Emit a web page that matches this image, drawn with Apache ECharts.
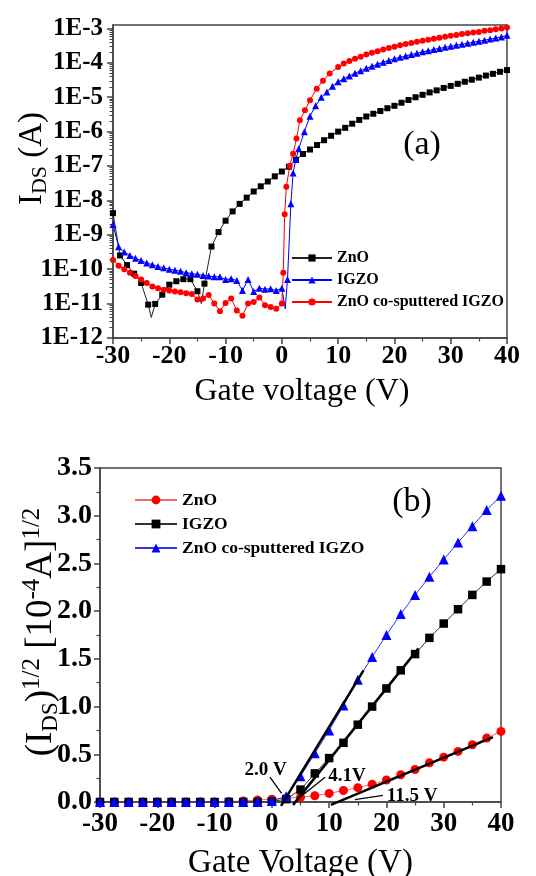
<!DOCTYPE html>
<html><head><meta charset="utf-8">
<script src="https://cdn.jsdelivr.net/npm/echarts@6/dist/echarts.min.js"></script>
<style>html,body{margin:0;padding:0;background:#fff}#c{width:536px;height:876px}</style>
</head><body><div id="c"></div>
<script>
// ---------- tick labels ----------
const xTickValues = [-30, -20, -10, 0, 10, 20, 30, 40];
const decadeTicks = [1e-12, 1e-11, 1e-10, 1e-9, 1e-8, 1e-7, 1e-6, 1e-5, 1e-4, 1e-3];
const sqrtTicks = [0, 0.5, 1.0, 1.5, 2.0, 2.5, 3.0, 3.5];

// ---------- panel (a): log10(I_DS) values ----------
const aZnO_V = [-30,-28.75,-27.5,-26.25,-25,-23.75,-22.5,-21.25,-20,-18.75,-17.5,-16.25,-15,-13.75,-12.5,-11.25,-10,-8.75,-7.5,-6.25,-5,-3.75,-2.5,-1.25,0,1.25,2.5,3.75,5,6.25,7.5,8.75,10,11.25,12.5,13.75,15,16.25,17.5,18.75,20,21.25,22.5,23.75,25,26.25,27.5,28.75,30,31.25,32.5,33.75,35,36.25,37.5,38.75,40];
const aZnO_logI = [-8.37,-9.6,-9.88,-10.13,-10.4,-11.03,-11.01,-10.74,-10.45,-10.35,-10.29,-10.29,-10.64,-10.42,-9.34,-8.92,-8.59,-8.32,-8.1,-7.92,-7.74,-7.59,-7.45,-7.3,-7.16,-7.02,-6.82,-6.65,-6.52,-6.39,-6.25,-6.12,-6.0,-5.89,-5.77,-5.66,-5.56,-5.48,-5.4,-5.32,-5.25,-5.16,-5.08,-5.0,-4.93,-4.86,-4.8,-4.73,-4.67,-4.61,-4.55,-4.49,-4.43,-4.37,-4.32,-4.26,-4.21];
const aZnO_lineOnlyV = [-23.2, -14.3];
const aZnO_lineOnlyLogI = [-11.4, -11.0];

const aIGZO_V = [-30,-29,-28,-27,-26,-25,-24,-23,-22,-21,-20,-19,-18,-17,-16,-15,-14,-13,-12,-11,-10,-9,-8,-7,-6,-5,-4,-3,-2,-1,0,
  1,1.6,2,2.5,3,4,5,6,7,8,9,
  10,11,12,13,14,15,16,17,18,19,20,21,22,23,24,25,26,27,28,29,30,31,32,33,34,35,36,37,38,39,40];
const aIGZO_logI = [-8.7,-9.35,-9.5,-9.6,-9.68,-9.75,-9.82,-9.87,-9.92,-9.96,-10.0,-10.03,-10.06,-10.1,-10.13,-10.15,-10.18,-10.2,-10.22,-10.22,-10.3,-10.28,-10.33,-10.62,-10.3,-10.65,-10.55,-10.58,-10.57,-10.62,-10.55,
  -10.3,-8.1,-7.2,-6.8,-6.5,-6.0,-5.55,-5.25,-5.0,-4.85,-4.68,
  -4.55,-4.46,-4.38,-4.3,-4.23,-4.16,-4.1,-4.04,-3.98,-3.93,-3.88,-3.84,-3.8,-3.76,-3.72,-3.68,-3.65,-3.61,-3.58,-3.55,-3.52,-3.49,-3.46,-3.43,-3.4,-3.37,-3.34,-3.31,-3.28,-3.25,-3.2];
const aIGZO_lineOnlyV = [0.6];
const aIGZO_lineOnlyLogI = [-11.15];

const aCo_V = [-30,-29,-28,-27,-26,-25,-24,-23,-22,-21,-20,-19,-18,-17,-16,-15,-14,-13,-12,-11,-10,-9,-8,-7,-6,-5,-4,-3,-2,-1,0,
  0.25,0.5,0.8,1.4,2,2.6,3.2,4.1,5,6.2,7.3,8.5,
  10,11,12,13,14,15,16,17,18,19,20,21,22,23,24,25,26,27,28,29,30,31,32,33,34,35,36,37,38,39,40];
const aCo_logI = [-9.73,-9.9,-10.0,-10.1,-10.2,-10.3,-10.4,-10.5,-10.55,-10.6,-10.62,-10.65,-10.67,-10.7,-10.72,-10.88,-10.85,-10.75,-11.0,-11.22,-10.98,-10.85,-11.2,-11.35,-11.0,-10.95,-10.82,-11.05,-11.1,-11.15,-11.0,
  -10.1,-8.4,-7.6,-7.0,-6.64,-6.2,-5.67,-5.38,-5.09,-4.75,-4.52,-4.31,
  -4.12,-4.02,-3.95,-3.88,-3.82,-3.76,-3.71,-3.66,-3.61,-3.57,-3.53,-3.49,-3.45,-3.42,-3.39,-3.36,-3.33,-3.3,-3.27,-3.24,-3.21,-3.19,-3.16,-3.14,-3.12,-3.1,-3.07,-3.05,-3.02,-3.0,-2.97];

// ---------- panel (b): sqrt(I_DS) [1e-4 A]^1/2 ----------
const bV = [-30,-27.5,-25,-22.5,-20,-17.5,-15,-12.5,-10,-7.5,-5,-2.5,0,2.5,5,7.5,10,12.5,15,17.5,20,22.5,25,27.5,30,32.5,35,37.5,40];
const bZnO = [0,0,0,0,0,0,0,0,0,0.005,0.01,0.02,0.03,0.04,0.05,0.065,0.09,0.12,0.15,0.185,0.23,0.285,0.34,0.41,0.47,0.53,0.6,0.67,0.74];
const bIGZO = [0,0,0,0,0,0,0,0,0,0,0,0,0.005,0.03,0.13,0.3,0.46,0.62,0.81,1.0,1.19,1.38,1.55,1.72,1.87,2.02,2.17,2.31,2.44];
const bCo = [0,0,0,0,0,0,0,0,0,0,0,0,0.01,0.06,0.27,0.51,0.75,1.01,1.28,1.52,1.75,1.97,2.17,2.36,2.54,2.72,2.89,3.06,3.21];
// linear-fit lines (end points)
const fitCo_V = [1.6, 16], fitCo_Y = [-0.04, 1.38];
const fitIGZO_V = [3.7, 25.6], fitIGZO_Y = [-0.03, 1.61];
const fitZnO_V = [10.3, 38.6], fitZnO_Y = [-0.03, 0.68];
// threshold annotations
const annText = ['2.0 V', '4.1V', '11.5 V'];
const annTextV = [-1.1, 13.1, 24.5], annTextY = [0.33, 0.27, 0.065];
const arrowFromV = [-0.33, 9.3, 19.4], arrowFromY = [0.26, 0.26, 0.07];
const arrowToV = [1.7, 4.9, 14.5], arrowToY = [0.09, 0.05, 0.025];

// ---------- build ----------
const FONT = "'Liberation Serif','Times New Roman',serif";
const AX = '#444';
function logPts(vs, es, lv, le) {
  const pts = vs.map((v, i) => ({ value: [v, Math.pow(10, es[i])] }));
  lv.forEach((v, i) => pts.push({ value: [v, Math.pow(10, le[i])], symbol: 'none' }));
  pts.sort((p, q) => p.value[0] - q.value[0]);
  return pts;
}
const minorLog = [];
for (let e = -12; e <= -4; e++) for (let k = 2; k <= 9; k++) minorLog.push(k * Math.pow(10, e));

function xAxisCfg(grid, fs, margin, name, nameGap, nameFs, namePad) {
  return {
    type: 'value', gridIndex: grid, min: -30, max: 40, interval: 10,
    axisLine: { show: true, onZero: false, lineStyle: { color: AX, width: 1.5 } },
    axisTick: { show: true, length: 6, lineStyle: { color: AX, width: 1.5 } },
    minorTick: { show: true, splitNumber: 2, length: 3.5, lineStyle: { color: AX, width: 1.2 } },
    splitLine: { show: false }, minorSplitLine: { show: false },
    axisLabel: { color: '#000', fontFamily: FONT, fontWeight: 'bold', fontSize: fs, margin: margin, showMinLabel: true, showMaxLabel: true,
      customValues: xTickValues },
    name: name, nameLocation: 'middle', nameGap: nameGap, nameMoveOverlap: false,
    nameTextStyle: { color: '#000', fontFamily: FONT, fontSize: nameFs, padding: namePad }
  };
}

const option = {
  animation: false,
  backgroundColor: '#fff',
  grid: [
    { left: 113, top: 25, width: 394, height: 313, containLabel: false, outerBoundsMode: 'none',
      show: true, borderColor: AX, borderWidth: 1.5, backgroundColor: 'transparent' },
    { left: 100, top: 468, width: 401, height: 334, containLabel: false, outerBoundsMode: 'none',
      show: true, borderColor: AX, borderWidth: 1.5, backgroundColor: 'transparent' }
  ],
  xAxis: [
    xAxisCfg(0, 26, 5, 'Gate voltage (V)', 38, 32, [0, 16, 0, 0]),
    xAxisCfg(1, 27, 9, 'Gate Voltage (V)', 45, 33, [0, 0, 0, 0])
  ],
  yAxis: [
    {
      type: 'log', logBase: 10, gridIndex: 0, min: 1e-12, max: Math.pow(10, -2.9), position: 'left',
      axisLine: { show: true, onZero: false, lineStyle: { color: AX, width: 1.5 } },
      axisTick: { show: true, length: 6, customValues: decadeTicks, lineStyle: { color: AX, width: 1.5 } },
      axisLabel: { customValues: decadeTicks, color: '#000', fontFamily: FONT, fontWeight: 'bold', fontSize: 25, margin: 10,
        formatter: v => '1E' + Math.round(Math.log10(v)) },
      splitLine: { show: false },
      name: '{i|I}{s|DS}{i| (A)}', nameLocation: 'middle', nameRotate: 90, nameGap: 62, nameMoveOverlap: false,
      nameTextStyle: { padding: [0, 0, 0, 46], rich: {
        i: { fontFamily: FONT, fontSize: 33, lineHeight: 38, color: '#000' },
        s: { fontFamily: FONT, fontSize: 22, lineHeight: 22, verticalAlign: 'bottom', color: '#000' } } }
    },
    {
      type: 'log', logBase: 10, gridIndex: 0, min: 1e-12, max: Math.pow(10, -2.9), position: 'left',
      axisLine: { show: false, onZero: false },
      axisTick: { show: true, length: 3.5, customValues: minorLog, lineStyle: { color: AX, width: 1 } },
      axisLabel: { show: false }, splitLine: { show: false }
    },
    {
      type: 'value', gridIndex: 1, min: 0, max: 3.5, interval: 0.5,
      axisLine: { show: true, onZero: false, lineStyle: { color: AX, width: 1.5 } },
      axisTick: { show: true, length: 6, lineStyle: { color: AX, width: 1.5 } },
      minorTick: { show: true, splitNumber: 2, length: 3.5, lineStyle: { color: AX, width: 1.2 } },
      splitLine: { show: false },
      axisLabel: { color: '#000', fontFamily: FONT, fontWeight: 'bold', fontSize: 28, margin: 8,
        customValues: sqrtTicks, formatter: v => v.toFixed(1) },
      name: '{i|(I}{s|DS}{i|)}{p|1/2}{i| [10}{p|-4}{i|A]}{p|1/2}', nameLocation: 'middle', nameRotate: 90, nameGap: 38, nameMoveOverlap: false,
      nameTextStyle: { padding: [0, 0, 0, 6], rich: {
        i: { fontFamily: FONT, fontSize: 37, lineHeight: 42, color: '#000' },
        s: { fontFamily: FONT, fontSize: 23, lineHeight: 23, verticalAlign: 'bottom', color: '#000' },
        p: { fontFamily: FONT, fontSize: 25, lineHeight: 25, verticalAlign: 'top', color: '#000' } } }
    }
  ],
  legend: [
    { orient: 'vertical', left: 286, top: 245, itemWidth: 40, itemHeight: 9, itemGap: 6,
      data: ['ZnO', 'IGZO', 'ZnO co-sputtered IGZO'],
      textStyle: { fontFamily: FONT, fontWeight: 'bold', fontSize: 16, lineHeight: 16, color: '#000' } },
    { orient: 'vertical', left: 129, top: 486, itemWidth: 42, itemHeight: 11, itemGap: 6,
      data: ['ZnO ', 'IGZO ', 'ZnO co-sputtered IGZO '],
      textStyle: { fontFamily: FONT, fontWeight: 'bold', fontSize: 17.5, lineHeight: 18, color: '#000' } }
  ],
  graphic: [
    { type: 'text', x: 422, y: 145, style: { text: '(a)', font: "34px 'Liberation Serif'", fill: '#000', align: 'center', verticalAlign: 'middle' } },
    { type: 'text', x: 412, y: 502, style: { text: '(b)', font: "34px 'Liberation Serif'", fill: '#000', align: 'center', verticalAlign: 'middle' } }
  ],
  series: [
    { type: 'line', name: 'ZnO', xAxisIndex: 0, yAxisIndex: 0, data: logPts(aZnO_V, aZnO_logI, aZnO_lineOnlyV, aZnO_lineOnlyLogI),
      symbol: 'rect', symbolSize: 6, lineStyle: { color: '#222', width: 1 }, itemStyle: { color: '#000' } },
    { type: 'line', name: 'IGZO', xAxisIndex: 0, yAxisIndex: 0, data: logPts(aIGZO_V, aIGZO_logI, aIGZO_lineOnlyV, aIGZO_lineOnlyLogI),
      symbol: 'triangle', symbolSize: 7, lineStyle: { color: '#0000ff', width: 1 }, itemStyle: { color: '#0000ff' } },
    { type: 'line', name: 'ZnO co-sputtered IGZO', xAxisIndex: 0, yAxisIndex: 0, data: logPts(aCo_V, aCo_logI, [], []),
      symbol: 'circle', symbolSize: 6, lineStyle: { color: '#ff0000', width: 1 }, itemStyle: { color: '#ff0000' } },

    { type: 'line', name: 'ZnO ', xAxisIndex: 1, yAxisIndex: 2, data: bV.map((v, i) => [v, bZnO[i]]),
      symbol: 'circle', symbolSize: 9, lineStyle: { color: '#f06a6a', width: 1 }, itemStyle: { color: '#ff0000' } },
    { type: 'line', name: 'IGZO ', xAxisIndex: 1, yAxisIndex: 2, data: bV.map((v, i) => [v, bIGZO[i]]),
      symbol: 'rect', symbolSize: 8.5, lineStyle: { color: '#333', width: 1 }, itemStyle: { color: '#000' } },
    { type: 'line', name: 'ZnO co-sputtered IGZO ', xAxisIndex: 1, yAxisIndex: 2, data: bV.map((v, i) => [v, bCo[i]]),
      symbol: 'triangle', symbolSize: 10, lineStyle: { color: '#3030ff', width: 1 }, itemStyle: { color: '#0000ff' } },

    { type: 'line', name: 'fitCo', xAxisIndex: 1, yAxisIndex: 2, data: fitCo_V.map((v, i) => [v, fitCo_Y[i]]),
      showSymbol: false, symbol: 'none', clip: false, lineStyle: { color: '#000', width: 2.5 }, z: 5 },
    { type: 'line', name: 'fitIGZO', xAxisIndex: 1, yAxisIndex: 2, data: fitIGZO_V.map((v, i) => [v, fitIGZO_Y[i]]),
      showSymbol: false, symbol: 'none', clip: false, lineStyle: { color: '#000', width: 2.5 }, z: 5 },
    { type: 'line', name: 'fitZnO', xAxisIndex: 1, yAxisIndex: 2, data: fitZnO_V.map((v, i) => [v, fitZnO_Y[i]]),
      showSymbol: false, symbol: 'none', clip: false, lineStyle: { color: '#000', width: 2.5 }, z: 5 },

    { type: 'line', name: 'annotations', xAxisIndex: 1, yAxisIndex: 2, data: [], z: 6,
      markLine: { silent: true, symbol: ['none', 'arrow'], symbolSize: [0, 9], label: { show: false },
        lineStyle: { color: '#000', width: 1.3, type: 'solid' },
        data: arrowFromV.map((v, i) => [{ coord: [v, arrowFromY[i]] }, { coord: [arrowToV[i], arrowToY[i]] }]) },
      markPoint: { silent: true, symbol: 'circle', symbolSize: 0,
        label: { show: true, position: 'inside', formatter: '{b}', color: '#000', fontFamily: FONT, fontWeight: 'bold', fontSize: 19 },
        data: annText.map((t, i) => ({ name: t, coord: [annTextV[i], annTextY[i]] })) } }
  ]
};
const chart = echarts.init(document.getElementById('c'), null, { renderer: 'canvas' });
chart.setOption(option);
</script>
</body></html>
